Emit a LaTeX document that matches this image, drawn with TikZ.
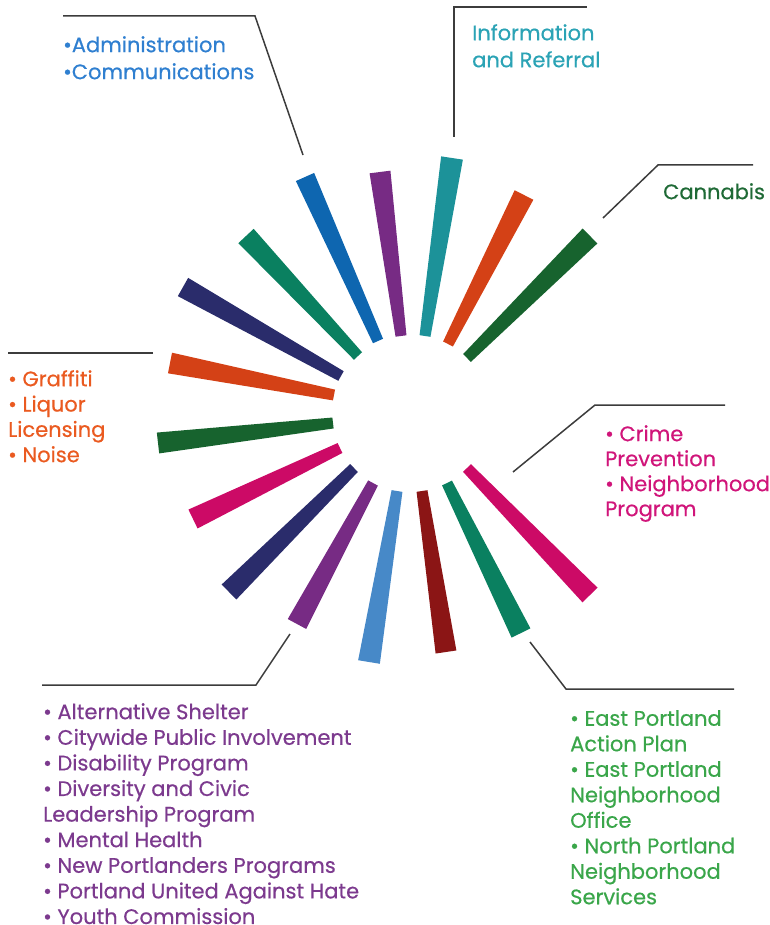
\documentclass[tikz,border=0pt]{standalone}
\usepackage{fontspec}
\setmainfont{Poppins}[FakeBold=0.5,BoldFont=Poppins,BoldFeatures={FakeBold=0.5}]
\newfontfamily\lblfont{Poppins}[FakeBold=0.5]
\usetikzlibrary{calc}
\definecolor{cOrange}{HTML}{D44116}
\definecolor{cNavy}{HTML}{2A2C6B}
\definecolor{cGreen}{HTML}{0A8060}
\definecolor{cBlue}{HTML}{0E66B0}
\definecolor{cPurple}{HTML}{772B84}
\definecolor{cTeal}{HTML}{1C9299}
\definecolor{cDkGreen}{HTML}{17632E}
\definecolor{cMagenta}{HTML}{CC0A66}
\definecolor{cDkRed}{HTML}{8B1515}
\definecolor{cLtBlue}{HTML}{4789C8}
\definecolor{tBlue}{HTML}{2F7FD0}
\definecolor{tTeal}{HTML}{2BA3B5}
\definecolor{tDkGreen}{HTML}{1F6A36}
\definecolor{tOrange}{HTML}{EA5A20}
\definecolor{tMagenta}{HTML}{D0157A}
\definecolor{tPurple}{HTML}{7C3A8E}
\definecolor{tGreen}{HTML}{3AA64A}
\definecolor{leadgray}{HTML}{3C3C3C}
% #1 colour, #2 inner point, #3 outer point, #4 inner half width, #5 outer half width
\newcommand\rayshape[5]{%
  \fill[#1] ($(#2)!#4!90:(#3)$) -- ($(#2)!#4!-90:(#3)$)
    -- ($(#3)!#5!90:(#2)$) -- ($(#3)!#5!-90:(#2)$) -- cycle;}
\begin{document}
\begin{tikzpicture}[x=1pt,y=-1pt,
  leader/.style={draw=leadgray, line width=1.5pt},
  lbl/.style={anchor=north west, inner sep=0pt, align=left,
    font=\lblfont\fontsize{21}{25.6}\selectfont}]
\useasboundingbox (0,0) rectangle (769,925);

% burst of bars
\rayshape{cOrange}{334,395}{170,363}{5.5pt}{10.5pt}
\rayshape{cNavy}{341,376}{183,287}{5.5pt}{10.5pt}
\rayshape{cGreen}{358,356}{246,236}{5.5pt}{10.5pt}
\rayshape{cBlue}{378,341}{305,177}{5.5pt}{10pt}
\rayshape{cPurple}{401,336}{380,172}{5.5pt}{10.5pt}
\rayshape{cTeal}{425,336}{452,158}{5.5pt}{11pt}
\rayshape{cOrange}{448,344}{524,195}{5.5pt}{10.5pt}
\rayshape{cDkGreen}{467,358}{590,236}{5.5pt}{10.5pt}
\rayshape{cMagenta}{467,468}{590,595}{5.5pt}{10.5pt}
\rayshape{cGreen}{447,483}{521,633}{5.5pt}{10.5pt}
\rayshape{cDkRed}{422,491}{446,652}{5.5pt}{10.5pt}
\rayshape{cLtBlue}{397,491}{369,662}{5.5pt}{11pt}
\rayshape{cPurple}{373,483}{297,624}{5.5pt}{10.5pt}
\rayshape{cNavy}{354,468}{229,592}{5.5pt}{10.5pt}
\rayshape{cMagenta}{340,448}{193,519}{5.5pt}{10.5pt}
\rayshape{cDkGreen}{333,423}{158,443}{5.5pt}{10.5pt}

% leader line points
\coordinate (admA) at (303,155); \coordinate (admB) at (255,16); \coordinate (admC) at (63,16);
\coordinate (infA) at (454,137); \coordinate (infB) at (454,7); \coordinate (infC) at (587,7);
\coordinate (canA) at (603,218); \coordinate (canB) at (658,165); \coordinate (canC) at (753,165);
\coordinate (graA) at (153,353); \coordinate (graB) at (8,353);
\coordinate (criA) at (513,472); \coordinate (criB) at (595,405); \coordinate (criC) at (725,405);
\coordinate (blA) at (290,634); \coordinate (blB) at (256,685); \coordinate (blC) at (42,685);
\coordinate (brA) at (530,642); \coordinate (brB) at (566,689); \coordinate (brC) at (734,689);

\draw[leader] (admA) -- (admB) -- (admC);
\draw[leader] (infA) -- (infB) -- (infC);
\draw[leader] (canA) -- (canB) -- (canC);
\draw[leader] (graA) -- (graB);
\draw[leader] (criA) -- (criB) -- (criC);
\draw[leader] (blA) -- (blB) -- (blC);
\draw[leader] (brA) -- (brB) -- (brC);

% labels
\node[lbl, text=tBlue, font=\lblfont\fontsize{21}{27}\selectfont] (adm) at (63,36)
  {•Administration\\•Communications};
\node[lbl, text=tTeal, font=\lblfont\fontsize{21}{27}\selectfont] (inf) at (472,24)
  {Information\\and Referral};
\node[lbl, text=tDkGreen] (can) at (663,183) {Cannabis};
\node[lbl, text=tOrange, font=\lblfont\fontsize{21}{25.3}\selectfont] (gra) at (8,370)
  {• Graffiti\\• Liquor\\Licensing\\• Noise};
\node[lbl, text=tMagenta, font=\lblfont\fontsize{21}{25}\selectfont] (cri) at (605,425)
  {• Crime\\Prevention\\• Neighborhood\\Program};
\node[lbl, text=tPurple] (bl) at (43,703)
  {• Alternative Shelter\\• Citywide Public Involvement\\• Disability Program\\• Diversity and Civic\\Leadership Program\\• Mental Health\\• New Portlanders Programs\\• Portland United Against Hate\\• Youth Commission};
\node[lbl, text=tGreen, font=\lblfont\fontsize{21}{25.5}\selectfont] (br) at (570,710)
  {• East Portland\\Action Plan\\• East Portland\\Neighborhood\\Office\\• North Portland\\Neighborhood\\Services};
\end{tikzpicture}
\end{document}
